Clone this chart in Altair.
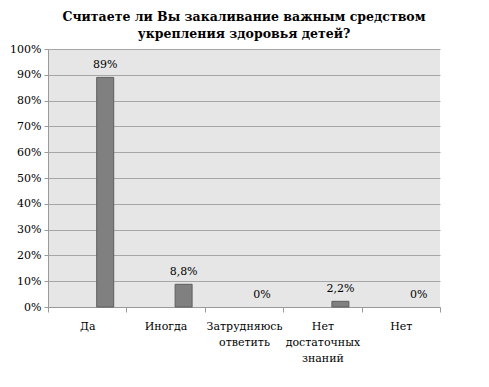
import altair as alt
import pandas as pd

categories = ["Да", "Иногда", "Затрудняюсь|ответить", "Нет|достаточных|знаний", "Нет"]
values = [0.89, 0.088, 0.0, 0.022, 0.0]
value_labels = ["89%", "8,8%", "0%", "2,2%", "0%"]
y_ticks = [0.0, 0.1, 0.2, 0.3, 0.4, 0.5, 0.6, 0.7, 0.8, 0.9, 1.0]

df = pd.DataFrame({"cat": categories, "val": values, "lbl": value_labels})

FONT = "DejaVu Serif"

x = alt.X("cat:N", sort=categories, title=None,
          scale=alt.Scale(paddingInner=0, paddingOuter=0),
          axis=alt.Axis(labelAngle=0, labelExpr="split(datum.label, '|')",
                        tickBand="extent", tickSize=5, tickColor="#9a9a9a",
                        domainColor="#9a9a9a", labelFont=FONT, labelFontSize=11,
                        labelColor="#000000", labelPadding=8, labelLineHeight=16,
                        labelBaseline="top"))
y = alt.Y("val:Q", title=None,
          scale=alt.Scale(domain=[0, 1]),
          axis=alt.Axis(format=".0%", values=y_ticks,
                        tickSize=4, tickColor="#9a9a9a", domainColor="#9a9a9a",
                        gridColor="#a6a6a6", labelFont=FONT, labelFontSize=11,
                        labelColor="#000000", labelPadding=3))

base = alt.Chart(df).encode(x=x, y=y)
bars = base.mark_bar(size=17, xOffset=18, color="#808080",
                     stroke="#5e5e5e", strokeWidth=1).encode(
    strokeOpacity=alt.condition(alt.datum.val > 0, alt.value(1), alt.value(0)))
texts = base.mark_text(xOffset=18, dy=-7, baseline="bottom", font=FONT,
                       fontSize=11, color="#000000").encode(text="lbl:N")

chart = alt.layer(bars, texts).properties(
    width=392, height=258,
    title=alt.TitleParams(
        ["Считаете  ли Вы закаливание  важным средством", "укрепления  здоровья детей?"],
        font=FONT, fontSize=12.5, fontWeight="bold", color="#000000",
        anchor="middle", offset=3, lineHeight=17),
    autosize=alt.AutoSizeParams(type="none"),
    padding={"left": 40, "top": 41, "right": 41, "bottom": 72},
    background="#ffffff",
).configure_view(fill="#e6e6e6", stroke=None)

chart.save("out.html", embed_options={"renderer": "svg", "actions": False})
